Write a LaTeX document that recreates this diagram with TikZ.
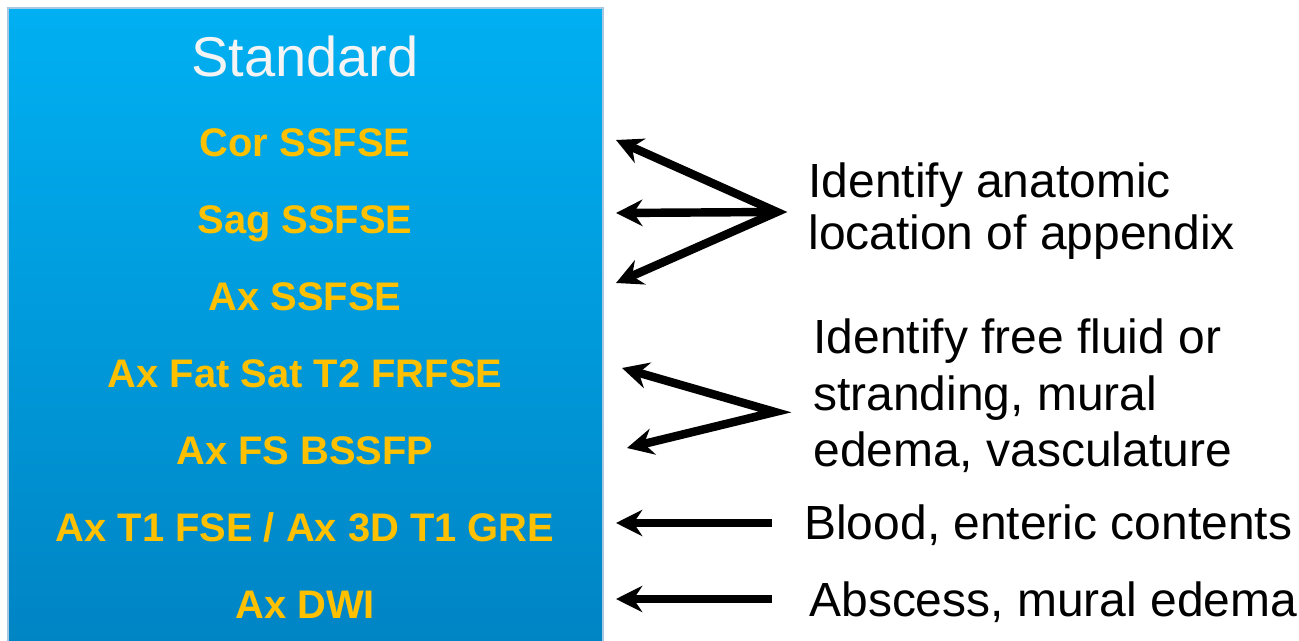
\documentclass[tikz,border=0pt]{standalone}
\usepackage{fontspec}
\setmainfont{Liberation Sans}
\usetikzlibrary{arrows.meta}
\definecolor{panelTop}{HTML}{00B0F2}
\definecolor{panelBottom}{HTML}{0084C4}
\definecolor{panelEdge}{HTML}{A8C8E2}
\definecolor{seqGold}{HTML}{FFC000}
\definecolor{titleWhite}{HTML}{F4F4F4}

\tikzset{
  seqlabel/.style={anchor=base, inner sep=0pt, text=seqGold,
                   font=\fontsize{22.7}{27}\selectfont\bfseries},
  purpose/.style={anchor=base west, align=left, inner sep=0pt,
                  font=\fontsize{27.3}{30}\selectfont},
  pointer/.style={-{Stealth[length=15pt, width=15pt, inset=5pt]},
                  line width=4.8pt, line join=miter}
}

\begin{document}
\begin{tikzpicture}[x=0.02cm, y=-0.02cm]
    \useasboundingbox (0,0) rectangle (1299,641);
    % sequence panel
    \shade[top color=panelTop, bottom color=panelBottom] (8,8) rectangle (603,645);
    \draw[panelEdge, line width=1.2pt] (8,645) -- (8,8) -- (603,8) -- (603,645);
    \node[anchor=base, inner sep=0pt, text=titleWhite,
          font=\fontsize{31.9}{38}\selectfont] (title) at (305,77) {Standard};

    \node[seqlabel] (cor)    at (305,157) {Cor SSFSE};
    \node[seqlabel] (sag)    at (305,234) {Sag SSFSE};
    \node[seqlabel] (axs)    at (305,311) {Ax SSFSE};
    \node[seqlabel] (fatsat) at (305,388) {Ax Fat Sat T2 FRFSE};
    \node[seqlabel] (bssfp)  at (305,465) {Ax FS BSSFP};
    \node[seqlabel] (tone)   at (305,542) {Ax T1 FSE / Ax 3D T1 GRE};
    \node[seqlabel] (dwi)    at (305,619) {Ax DWI};

    % what each sequence shows (base = last line)
    \node[purpose] (anat) at (808,250) {Identify anatomic\\location of appendix};
    \node[purpose, font=\fontsize{27.3}{32.3}\selectfont] (fluid) at (813,467)
      {Identify free fluid or\\stranding, mural\\edema, vasculature};
    \node[purpose] (blood) at (804,540) {Blood, enteric contents};
    \node[purpose] (absc)  at (809,617) {Abscess, mural edema};

    \coordinate (j1) at (777,212);
    \coordinate (t1a) at (616,140);
    \coordinate (t1b) at (616,213);
    \coordinate (t1c) at (616,283);
    \coordinate (j2) at (775,412);
    \coordinate (t2a) at (622,368);
    \coordinate (t2b) at (627,448);
    \coordinate (t3) at (616,523);
    \coordinate (t4) at (616,599);

    \draw[pointer, {Stealth[length=15pt, width=15pt, inset=5pt]}-{Stealth[length=15pt, width=15pt, inset=5pt]}]
      (t1a) -- (j1) -- (t1c);
    \draw[pointer] (j1) -- (t1b);
    \draw[pointer, {Stealth[length=15pt, width=15pt, inset=5pt]}-{Stealth[length=15pt, width=15pt, inset=5pt]}]
      (t2a) -- (j2) -- (t2b);
    \draw[pointer] (blood.west |- t3) ++(-32,0) -- (t3);
    \draw[pointer] (absc.west |- t4) ++(-37,0) -- (t4);
\end{tikzpicture}
\end{document}
